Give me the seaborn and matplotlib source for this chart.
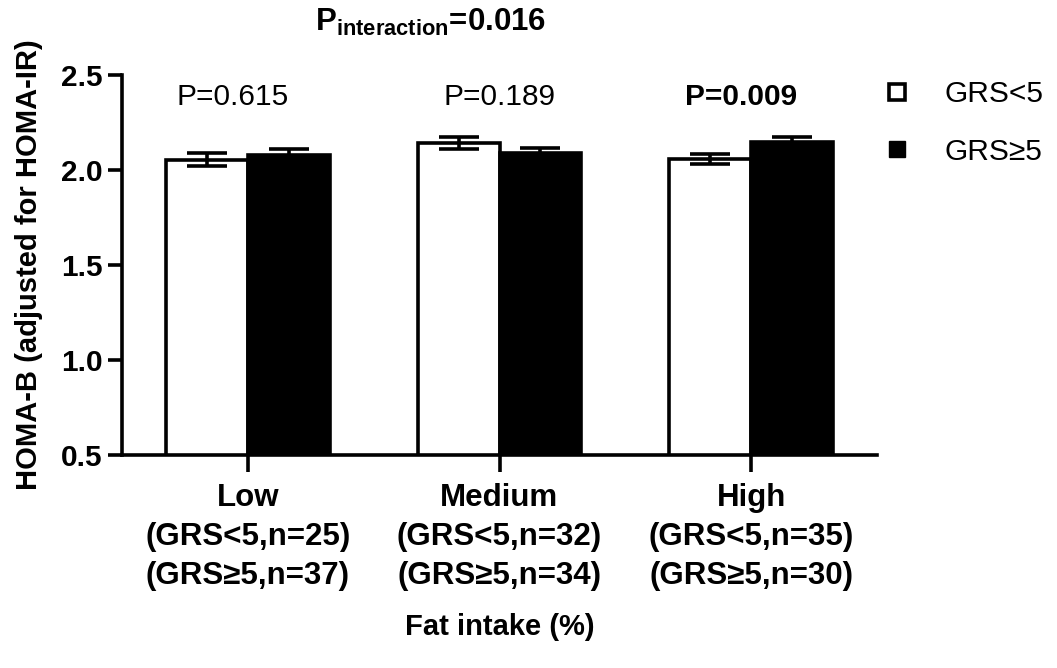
import matplotlib
matplotlib.use("Agg")
import matplotlib.pyplot as plt
from matplotlib.lines import Line2D
import seaborn as sns
import pandas as pd
import numpy as np

# ---- data ----
categories = ["Low", "Medium", "High"]
tick_labels = [
    "Low\n(GRS<5,n=25)\n(GRS\u22655,n=37)",
    "Medium\n(GRS<5,n=32)\n(GRS\u22655,n=34)",
    "High\n(GRS<5,n=35)\n(GRS\u22655,n=30)",
]
groups = ["GRS<5", "GRS\u22655"]
means_low_grs = [2.055, 2.142, 2.058]
means_high_grs = [2.079, 2.089, 2.147]
err_low_grs = [0.032, 0.031, 0.027]
err_high_grs = [0.029, 0.028, 0.026]
p_values = ["P=0.615", "P=0.189", "P=0.009"]
p_bold = [False, False, True]

sns.set_style("ticks")
plt.rcParams["font.family"] = ["Liberation Sans", "DejaVu Sans"]
plt.rcParams["mathtext.fontset"] = "custom"
plt.rcParams["mathtext.rm"] = "Liberation Sans"
plt.rcParams["mathtext.bf"] = "Liberation Sans:bold"
for k in ["text.color", "axes.labelcolor", "xtick.color", "ytick.color",
          "xtick.labelcolor", "ytick.labelcolor", "axes.edgecolor"]:
    plt.rcParams[k] = "black"

df = pd.DataFrame({
    "cat": categories * 2,
    "grp": [groups[0]] * 3 + [groups[1]] * 3,
    "val": means_low_grs + means_high_grs,
})
errs = {groups[0]: err_low_grs, groups[1]: err_high_grs}

fig = plt.figure(figsize=(10.57, 6.68), dpi=100)
ax = fig.add_axes([122 / 1057, 1 - 455 / 668, 755 / 1057, 380 / 668])

sns.barplot(data=df, x="cat", y="val", hue="grp", order=categories,
            hue_order=groups, palette={groups[0]: "white", groups[1]: "black"},
            edgecolor="black", linewidth=2.6, width=0.65, gap=0,
            errorbar=None, legend=False, ax=ax)

for cont, g in zip(ax.containers, groups):
    xs = [p.get_x() + p.get_width() / 2 for p in cont.patches]
    ys = [p.get_height() for p in cont.patches]
    ax.errorbar(xs, ys, yerr=errs[g], fmt="none", ecolor="black",
                elinewidth=2.6, capsize=14.5, capthick=2.6, zorder=5)

ax.set_ylim(0.5, 2.5)
ax.set_xlim(-0.5, 2.5)
ax.set_yticks([0.5, 1.0, 1.5, 2.0, 2.5])
ax.set_yticklabels(["0.5", "1.0", "1.5", "2.0", "2.5"], fontweight="bold", fontsize=21.5)
ax.set_xticks(range(3))
ax.set_xticklabels(tick_labels, fontweight="bold", fontsize=22.5)
for t in ax.get_xticklabels():
    t.set_linespacing(1.4)
ax.tick_params(axis="both", width=2.6, length=10, color="black",
               labelcolor="black", pad=4)
ax.tick_params(axis="x", length=12, pad=8)
for s in ["top", "right"]:
    ax.spines[s].set_visible(False)
for s in ["left", "bottom"]:
    ax.spines[s].set_linewidth(2.6)
    ax.spines[s].set_color("black")

ax.set_xlabel("Fat intake (%)", fontweight="bold", fontsize=21, color="black")
ax.xaxis.set_label_coords(0.5, -0.415)
ax.set_ylabel("HOMA-B (adjusted for HOMA-IR)", fontweight="bold", fontsize=21,
              color="black")
ax.yaxis.set_label_coords(-0.105, 0.5)

p_x = [-0.06, 1.0, 1.96]
for x, txt, b in zip(p_x, p_values, p_bold):
    ax.text(x, 2.385, txt, ha="center", va="center", fontsize=21.5,
            fontweight="bold" if b else "normal", clip_on=False, color="black")

fig.text(0.407, 0.967, r"$\mathbf{P_{interaction}}$=0.016", ha="center",
         va="center", fontsize=22.5, fontweight="bold", color="black")

handles = [
    Line2D([], [], marker="s", linestyle="none", markersize=11,
           markerfacecolor="white", markeredgecolor="black", markeredgewidth=2.6),
    Line2D([], [], marker="s", linestyle="none", markersize=12,
           markerfacecolor="black", markeredgecolor="black"),
]
fig.legend(handles, groups, loc="upper left", bbox_to_anchor=(882 / 1057, 1 - 80 / 668),
           frameon=False, fontsize=21.5, handlelength=1.0, handletextpad=1.1,
           labelspacing=1.0, borderaxespad=0, borderpad=0, labelcolor="black")

fig.savefig("out.png", dpi=100)
